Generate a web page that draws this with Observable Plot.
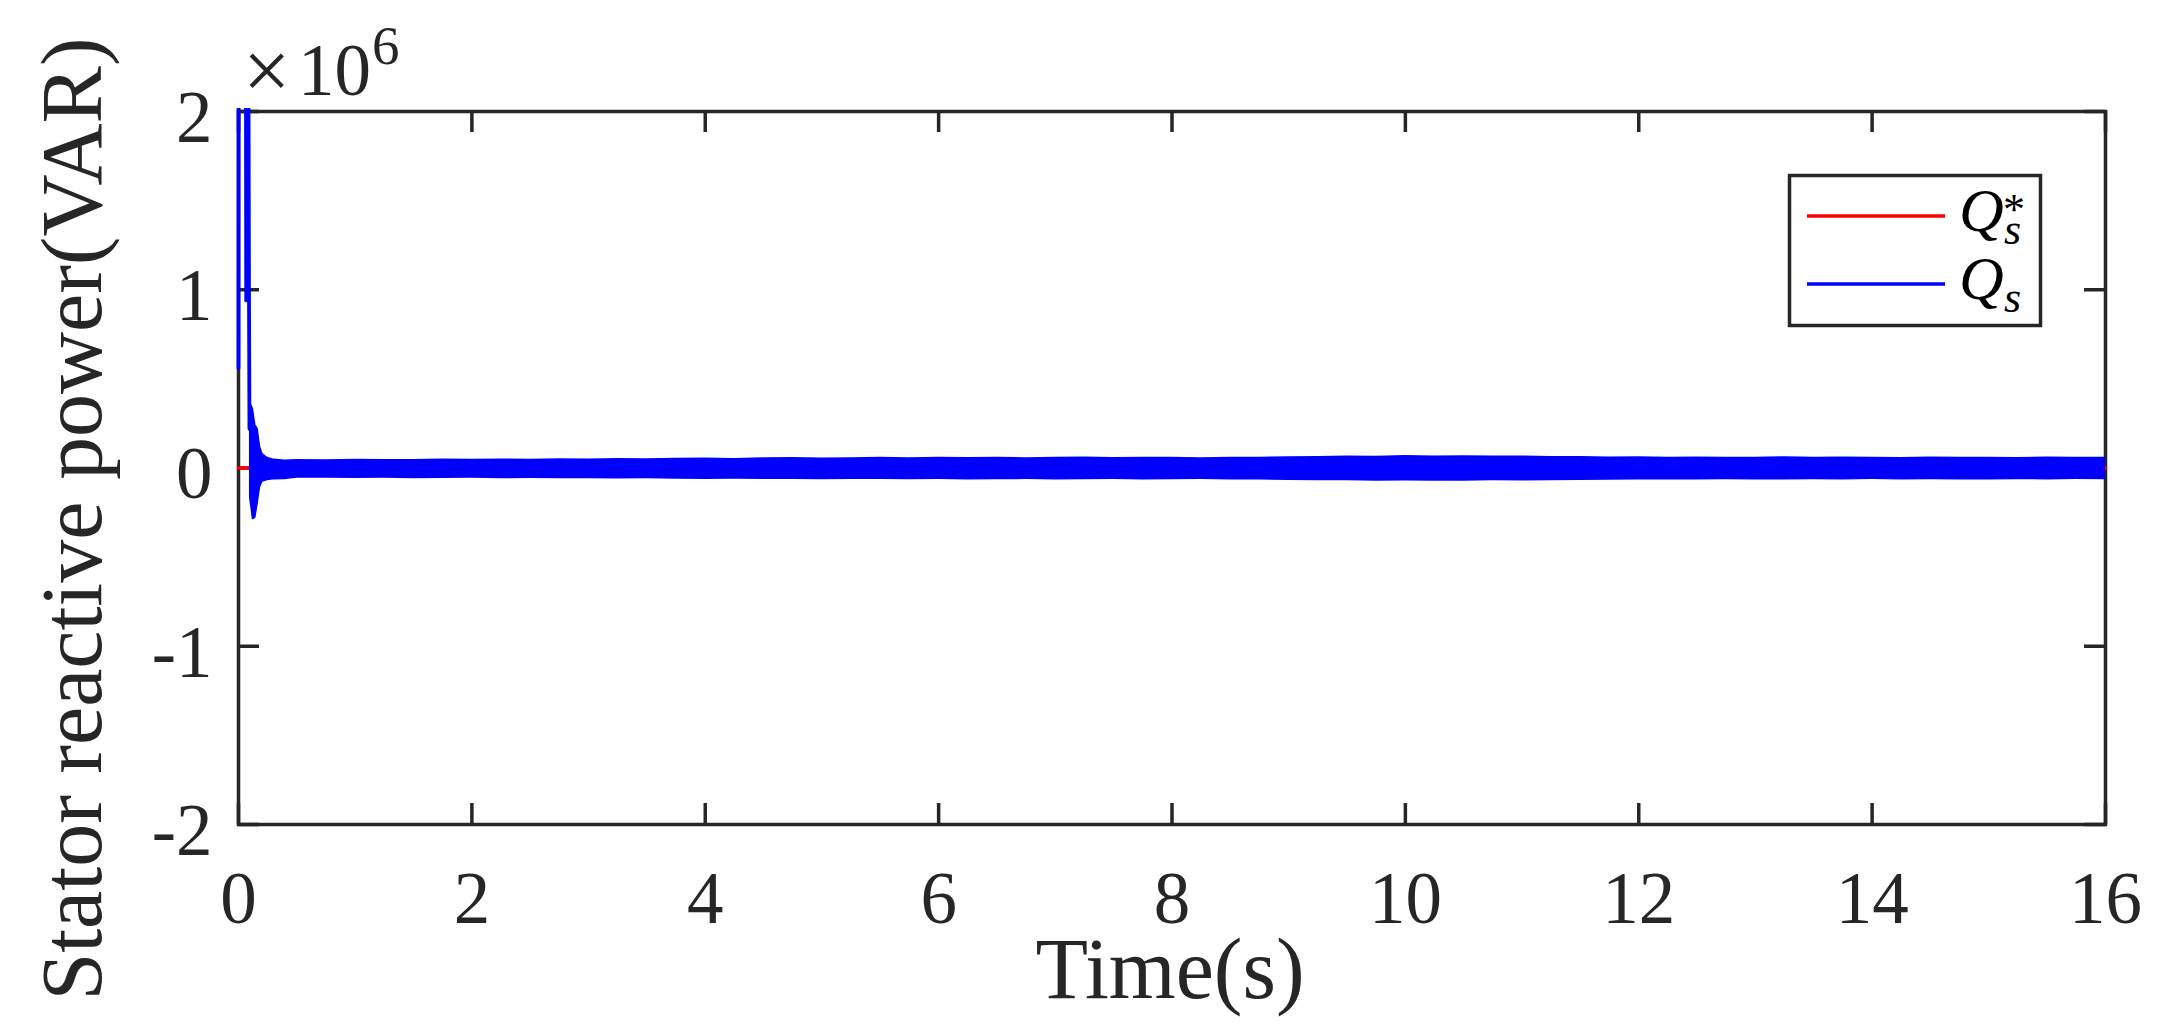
<!DOCTYPE html>
<html>
<head>
<meta charset="utf-8">
<script src="https://cdn.jsdelivr.net/npm/d3@7"></script>
<script src="https://cdn.jsdelivr.net/npm/@observablehq/plot@0.6"></script>
<style>
  html, body { margin: 0; padding: 0; background: #ffffff; }
  #chart svg { display: block; }
  #chart svg text { font-family: "Liberation Serif", "Times New Roman", "DejaVu Serif", serif; }
</style>
</head>
<body>
<div id="chart"></div>
<script>
// ---- data (Q in units of 10^6 VAR, t in s) ----
const xTicks = [0, 2, 4, 6, 8, 10, 12, 14, 16];
const yTicks = [-2, -1, 0, 1, 2];

// reference Q_s^*
const refT = [0, 16];
const refQ = [0, 0];

// start-up transient of Q_s
const spikeT = [0, 0.003, 0.060, 0.066, 0.072, 0.078, 0.084, 0.090, 0.094];
const spikeQ = [0.56, 4.5, 4.5, 0.94, 3.0, 0.96, 2.6, 0.95, 0.22];

// envelope of the fast oscillation of Q_s
const bandT = [
  0.094, 0.105, 0.118, 0.13, 0.15, 0.17, 0.19, 0.21, 0.25, 0.30, 0.40,
  0.5, 0.75, 1, 1.25, 1.5, 1.75, 2, 2.25, 2.5, 2.75,
  3, 3.25, 3.5, 3.75, 4, 4.25, 4.5, 4.75, 5, 5.25,
  5.5, 5.75, 6, 6.25, 6.5, 6.75, 7, 7.25, 7.5, 7.75,
  8, 8.25, 8.5, 8.75, 9, 9.25, 9.5, 9.75, 10, 10.25,
  10.5, 10.75, 11, 11.25, 11.5, 11.75, 12, 12.25, 12.5, 12.75,
  13, 13.25, 13.5, 13.75, 14, 14.25, 14.5, 14.75, 15, 15.25,
  15.5, 15.75, 16
];
const bandHi = [
  0.30, 0.36, 0.35, 0.33, 0.24, 0.22, 0.12, 0.08, 0.06, 0.05, 0.045,
  0.048, 0.046, 0.049, 0.047, 0.048, 0.050, 0.049, 0.051, 0.049, 0.052,
  0.050, 0.053, 0.052, 0.055, 0.056, 0.054, 0.057, 0.059, 0.056, 0.058,
  0.061, 0.058, 0.060, 0.059, 0.061, 0.058, 0.060, 0.062, 0.059, 0.061,
  0.060, 0.058, 0.061, 0.060, 0.063, 0.065, 0.067, 0.066, 0.070, 0.068,
  0.069, 0.067, 0.068, 0.065, 0.064, 0.062, 0.063, 0.061, 0.062, 0.060,
  0.061, 0.063, 0.060, 0.062, 0.061, 0.059, 0.062, 0.060, 0.061, 0.059,
  0.062, 0.060, 0.061
];
const bandLo = [
  -0.17, -0.22, -0.29, -0.29, -0.28, -0.20, -0.11, -0.08, -0.072, -0.068, -0.066,
  -0.058, -0.057, -0.059, -0.058, -0.060, -0.059, -0.058, -0.060, -0.059, -0.061,
  -0.060, -0.062, -0.061, -0.063, -0.064, -0.063, -0.065, -0.064, -0.066, -0.065,
  -0.064, -0.066, -0.065, -0.067, -0.066, -0.065, -0.067, -0.066, -0.065, -0.067,
  -0.066, -0.065, -0.067, -0.068, -0.070, -0.071, -0.072, -0.074, -0.073, -0.075,
  -0.074, -0.072, -0.073, -0.071, -0.070, -0.069, -0.068, -0.067, -0.068, -0.066,
  -0.067, -0.068, -0.066, -0.067, -0.065, -0.067, -0.066, -0.068, -0.067, -0.066,
  -0.067, -0.065, -0.066
];

// ---- tables ----
const refData = refT.map((t, i) => ({t, q: refQ[i]}));
const spikeData = spikeT.map((t, i) => ({t, q: spikeQ[i]}));
const bandData = bandT.map((t, i) => ({t, hi: bandHi[i], lo: bandLo[i]}));

const W = 2175, H = 1033;
const mL = 238, mR = 70, mT = 111, mB = 209;
const innerW = W - mL - mR, innerH = H - mT - mB;
const tick = 21;
const ink = "#262626";
const serif = "Liberation Serif";

const svg = Plot.plot({
  width: W, height: H,
  marginLeft: mL, marginRight: mR, marginTop: mT, marginBottom: mB,
  style: {fontFamily: serif, background: "#ffffff", color: ink, overflow: "visible"},
  x: {domain: [0, 16]},
  y: {domain: [-2, 2]},
  marks: [
    Plot.frame({stroke: ink, strokeWidth: 3.5}),
    Plot.ruleX(xTicks, {x: d => d, insetBottom: innerH - tick, stroke: ink, strokeWidth: 3.5}),
    Plot.ruleX(xTicks, {x: d => d, insetTop: innerH - tick, stroke: ink, strokeWidth: 3.5}),
    Plot.ruleY(yTicks, {y: d => d, insetRight: innerW - tick, stroke: ink, strokeWidth: 3.5}),
    Plot.ruleY(yTicks, {y: d => d, insetLeft: innerW - tick, stroke: ink, strokeWidth: 3.5}),
    Plot.axisX({ticks: xTicks, tickSize: 0, tickPadding: 47, fontSize: 73, label: null, tickFormat: d => String(d)}),
    Plot.axisY({ticks: yTicks, tickSize: 0, tickPadding: 26, fontSize: 73, label: null, tickFormat: d => String(d), dy: 7}),
    Plot.line(refData, {x: "t", y: "q", stroke: "#ff0000", strokeWidth: 3.5, clip: true}),
    Plot.areaY(bandData, {x: "t", y1: "lo", y2: "hi", fill: "#0000ff", clip: true}),
    Plot.line(spikeData, {x: "t", y: "q", stroke: "#0000ff", strokeWidth: 3.8, clip: true})
  ]
});

document.getElementById("chart").appendChild(svg);

// let clipped lines keep their full width at the box edge
d3.select(svg).selectAll("clipPath rect").each(function() {
  const r = d3.select(this);
  r.attr("x", +r.attr("x") - 3).attr("y", +r.attr("y") - 3)
   .attr("width", +r.attr("width") + 6).attr("height", +r.attr("height") + 6);
});

const s = d3.select(svg);

// axis labels
s.append("text").attr("x", 1170).attr("y", 998).attr("text-anchor", "middle")
  .attr("font-size", 86).attr("fill", ink).text("Time(s)");
s.append("text").attr("transform", "translate(101,519) rotate(-90)").attr("text-anchor", "middle")
  .attr("font-size", 86).attr("fill", ink).text("Stator reactive power(VAR)");

// exponent
s.append("text").attr("x", 243).attr("y", 99).attr("text-anchor", "start").attr("font-size", 84).attr("fill", ink).text("×");
s.append("text").attr("x", 298).attr("y", 95).attr("text-anchor", "start").attr("font-size", 73).attr("fill", ink).text("10");
s.append("text").attr("x", 372).attr("y", 64).attr("text-anchor", "start").attr("font-size", 55).attr("fill", ink).text("6");

// legend
const lg = s.append("g").attr("text-anchor", "start");
lg.append("rect").attr("x", 1789.5).attr("y", 175.5).attr("width", 251).attr("height", 150)
  .attr("fill", "#ffffff").attr("stroke", ink).attr("stroke-width", 3.5);
lg.append("line").attr("x1", 1807).attr("x2", 1945).attr("y1", 216).attr("y2", 216)
  .attr("stroke", "#ff0000").attr("stroke-width", 3.5);
lg.append("line").attr("x1", 1807).attr("x2", 1945).attr("y1", 284).attr("y2", 284)
  .attr("stroke", "#0000ff").attr("stroke-width", 3.5);
function qLabel(y, star) {
  lg.append("text").attr("x", 1959).attr("y", y).attr("font-style", "italic")
    .attr("font-size", 62).attr("fill", "#000").text("Q");
  lg.append("text").attr("x", 2004).attr("y", y + 13).attr("font-style", "italic")
    .attr("font-size", 44).attr("fill", "#000").text("s");
  if (star) lg.append("text").attr("x", 2003).attr("y", y - 7)
    .attr("font-size", 44).attr("fill", "#000").text("*");
}
qLabel(231, true);
qLabel(299, false);
</script>
</body>
</html>
